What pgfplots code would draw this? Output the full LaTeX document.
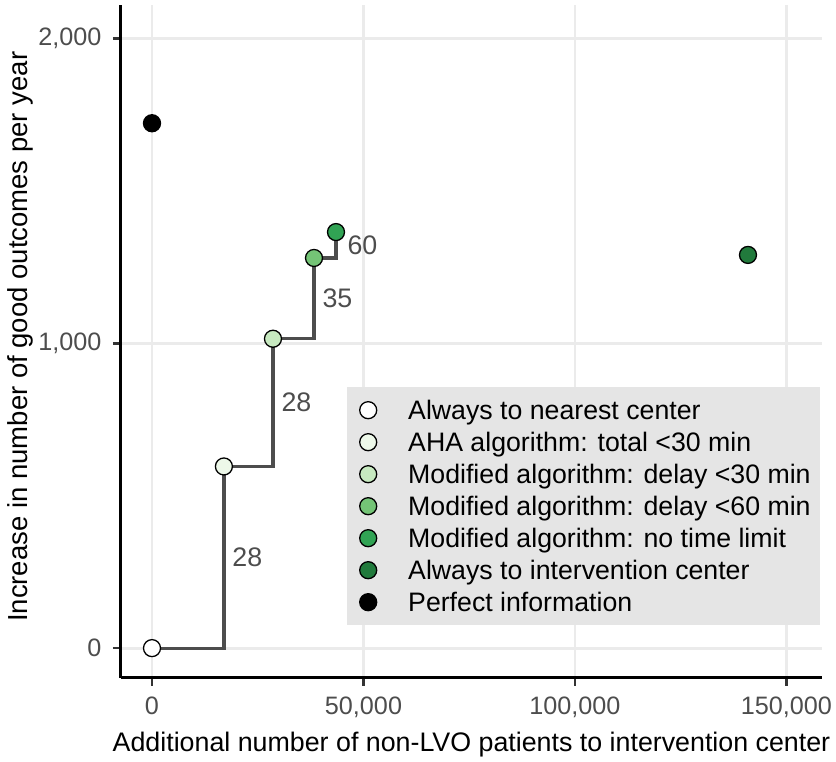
\documentclass[border=0pt]{standalone}
\usepackage{fontspec}
\setmainfont{Liberation Sans}
\usepackage{pgfplots}
\pgfplotsset{compat=1.18}
\definecolor{gridc}{HTML}{EBEBEB}
\definecolor{txtc}{HTML}{4D4D4D}
\definecolor{tickc}{HTML}{333333}
\definecolor{legbg}{HTML}{E5E5E5}
\definecolor{gA}{HTML}{FFFFFF}
\definecolor{gB}{HTML}{EDF8E9}
\definecolor{gC}{HTML}{C7E9C0}
\definecolor{gD}{HTML}{74C476}
\definecolor{gE}{HTML}{31A354}
\definecolor{gF}{HTML}{217A3C}
\begin{document}
\begin{tikzpicture}
\useasboundingbox (0,0) rectangle (836pt,762pt);
\begin{axis}[
  at={(121pt,84pt)}, anchor=south west,
  width=701pt, height=673pt, scale only axis,
  xmin=-7330, xmax=158400, ymin=-98, ymax=2110,
  axis lines*=left,
  axis line style={line width=3pt, black},
  xtick={0,50000,100000,150000}, ytick={0,1000,2000},
  xticklabels={0,{50,000},{100,000},{150,000}},
  yticklabels={0,{1,000},{2,000}},
  tick align=outside, major tick length=8pt,
  every major tick/.append style={line width=2.4pt, tickc},
  major tick style={line width=2.4pt, tickc},
  xmajorgrids, ymajorgrids,
  major grid style={gridc, line width=2.8pt},
  scaled ticks=false,
  ticklabel style={font=\fontsize{25.2}{29}\selectfont, text=txtc},
  xticklabel style={yshift=-7pt},
  yticklabel style={xshift=-8pt},
  xlabel={Additional number of non-LVO patients to intervention center},
  ylabel={Increase in number of good outcomes per year},
  label style={font=\fontsize{26.8}{31}\selectfont, text=black},
  xlabel style={at={(axis description cs:0.5,0)}, anchor=center, yshift=-67pt},
  ylabel style={at={(axis description cs:-0.1441,0.507)}, anchor=center, font=\fontsize{27.5}{31}\selectfont},
  legend style={at={(axis description cs:0.3224,0.4324)}, anchor=north west,
    fill=legbg, draw=none, inner xsep=9pt, inner ysep=10pt,
    font=\fontsize{26.7}{31}\selectfont,
    nodes={inner sep=0pt, text height=22pt, text depth=4pt},
    row sep=6pt, column sep=28pt},
  legend cell align=left,
  legend image code/.code={\path[draw=none,fill=none] (0pt,-8pt) rectangle (24pt,8pt); \draw[#1] plot coordinates {(12pt,0pt)};},
  clip=false,
]
\addplot[const plot, draw=txtc, line width=3.2pt, forget plot]
  coordinates {(0,0) (17000,596) (28600,1015) (38300,1280) (43500,1365)};
\addplot[only marks, mark=*, mark size=8.5pt, mark options={fill=gA, draw=black, line width=1.3pt}] coordinates {(0,0)};
\addlegendentry{Always to nearest center}
\addplot[only marks, mark=*, mark size=8.5pt, mark options={fill=gB, draw=black, line width=1.3pt}] coordinates {(17000,596)};
\addlegendentry{AHA algorithm: total <30 min}
\addplot[only marks, mark=*, mark size=8.5pt, mark options={fill=gC, draw=black, line width=1.3pt}] coordinates {(28600,1015)};
\addlegendentry{Modified algorithm: delay <30 min}
\addplot[only marks, mark=*, mark size=8.5pt, mark options={fill=gD, draw=black, line width=1.3pt}] coordinates {(38300,1280)};
\addlegendentry{Modified algorithm: delay <60 min}
\addplot[only marks, mark=*, mark size=8.5pt, mark options={fill=gE, draw=black, line width=1.3pt}] coordinates {(43500,1365)};
\addlegendentry{Modified algorithm: no time limit}
\addplot[only marks, mark=*, mark size=8.5pt, mark options={fill=gF, draw=black, line width=1.3pt}] coordinates {(140900,1290)};
\addlegendentry{Always to intervention center}
\addplot[only marks, mark=*, mark size=8.5pt, mark options={fill=black, draw=black, line width=1.3pt}] coordinates {(0,1722)};
\addlegendentry{Perfect information}
\begin{scope}[every node/.style={anchor=west, text=txtc, font=\fontsize{26.8}{31}\selectfont, xshift=5pt}]
\node at (axis cs:17000,298) {28};
\node at (axis cs:28600,805) {28};
\node at (axis cs:38300,1147) {35};
\node[xshift=3pt] at (axis cs:43500,1322) {60};
\end{scope}
\end{axis}
\end{tikzpicture}
\end{document}
